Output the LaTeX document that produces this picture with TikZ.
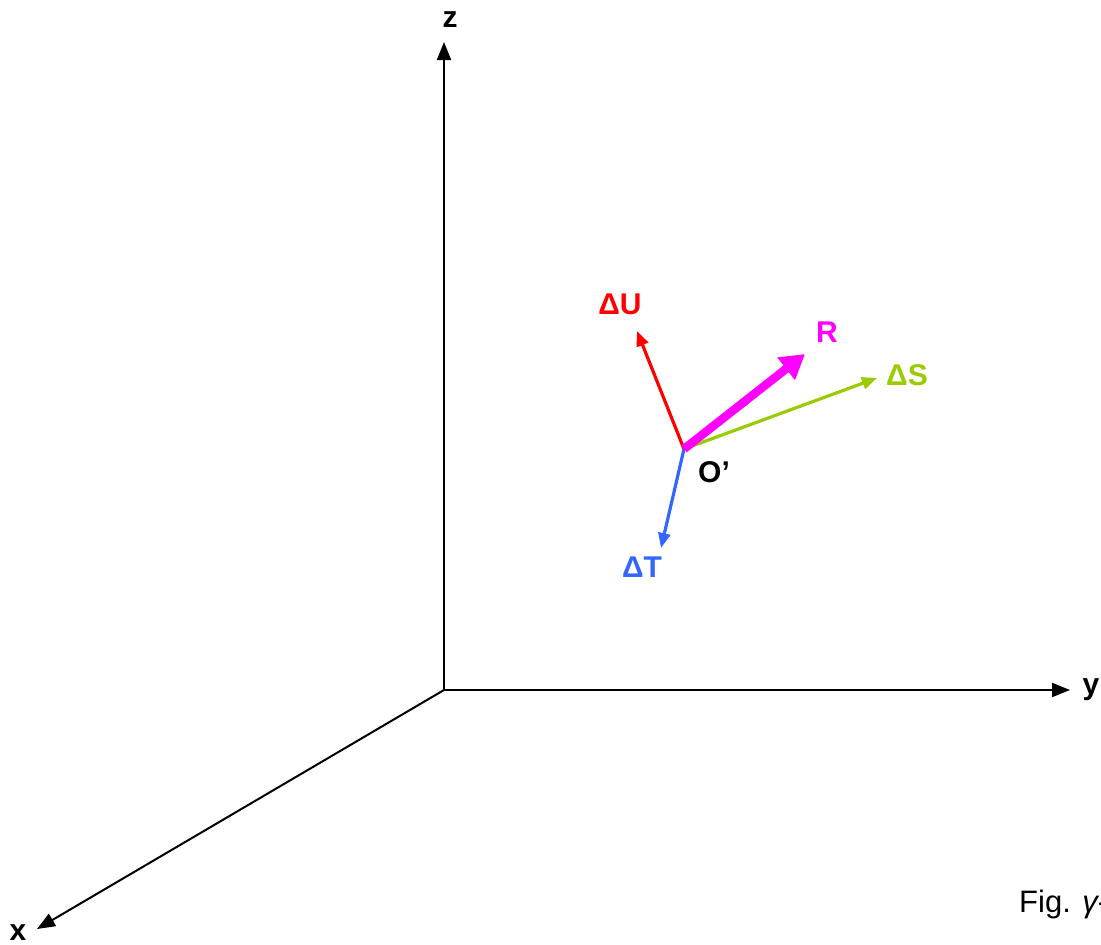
\documentclass[tikz,border=0pt]{standalone}
\usepackage{fontspec}
\setmainfont{Liberation Sans}
\usetikzlibrary{arrows.meta}
\definecolor{cU}{RGB}{255,0,0}
\definecolor{cR}{RGB}{255,0,255}
\definecolor{cS}{RGB}{153,204,0}
\definecolor{cT}{RGB}{51,102,255}
\tikzset{
  axis/.style={draw=black, line width=2pt, -{Triangle[length=18pt,width=14pt]}},
  vec/.style={line width=3.2pt, -{Triangle[length=15pt,width=12pt]}},
  bigvec/.style={line width=8.5pt, -{Triangle[length=24pt,width=27pt]}},
  lbl/.style={font=\fontsize{30}{36}\selectfont\bfseries, inner sep=0pt},
}
\begin{document}
\begin{tikzpicture}[x=1pt,y=-1pt]
\useasboundingbox (0,0) rectangle (1101,945);
\clip (0,0) rectangle (1101,945);
\coordinate (O) at (444,690);
\coordinate (zt) at (444,42);
\coordinate (yt) at (1070,690);
\coordinate (xt) at (37,929);
\draw[axis] (O) -- (zt);
\draw[axis] (O) -- (yt);
\draw[axis] (O) -- (xt);
\node[lbl] (zl) at (450,20) {z};
\node[lbl] (yl) at (1091,690) {y};
\node[lbl] (xl) at (18,933) {x};
\coordinate (Op) at (684,449);
\coordinate (Ut) at (637,331);
\coordinate (Rt) at (805,354);
\coordinate (St) at (877,378);
\coordinate (Tt) at (661,548);
\draw[vec, cU] (Op) -- (Ut);
\draw[vec, cS] (Op) -- (St);
\draw[vec, cT] (Op) -- (Tt);
\draw[bigvec, cR] (Op) -- (Rt);
\node[lbl, text=cU] (Ul) at (620,304) {ΔU};
\node[lbl, text=cR] (Rl) at (827,332) {R};
\node[lbl, text=cS] (Sl) at (907,375) {ΔS};
\node[lbl, text=cT] (Tl) at (642,567) {ΔT};
\node[lbl] (Ol) at (714,472) {O’};
\node[anchor=base west, inner sep=0pt, font=\fontsize{31}{36}\selectfont] (fig) at (1019,912) {Fig. {\itshape γ}-};
\end{tikzpicture}
\end{document}
